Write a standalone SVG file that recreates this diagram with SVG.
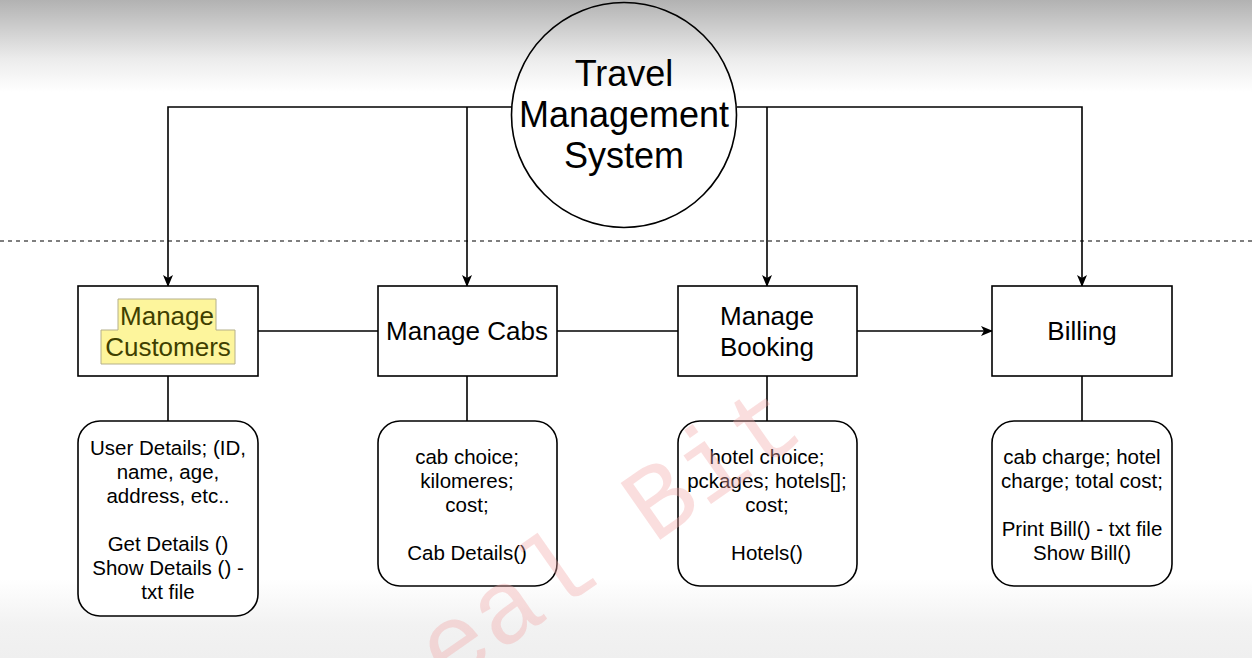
<svg xmlns="http://www.w3.org/2000/svg" width="1252" height="658" viewBox="0 0 1252 658">
<defs>
<linearGradient id="bg" x1="0" y1="0" x2="0" y2="1">
<stop offset="0" stop-color="#b2b2b2"/>
<stop offset="0.09" stop-color="#ececec"/>
<stop offset="0.14" stop-color="#ffffff"/>
<stop offset="0.88" stop-color="#ffffff"/>
<stop offset="0.95" stop-color="#f2f2f2"/>
<stop offset="1" stop-color="#efefef"/>
</linearGradient>
<marker id="arr" viewBox="0 0 12 12" refX="11" refY="6" markerWidth="12" markerHeight="12" markerUnits="userSpaceOnUse" orient="auto">
<path d="M0,1 L12,6 L0,11 L3,6 Z" fill="#000"/>
</marker>
<style>
.ln{stroke:#000;stroke-width:1.6;fill:none}
.box{fill:#fff;stroke:#000;stroke-width:1.6}
.t{font-family:"Liberation Sans",Arial,sans-serif;fill:#000;text-anchor:middle}
.title{font-size:26px}
.body{font-size:20.5px}
.wm{font-family:"Liberation Mono","Courier New",monospace;font-size:105px;fill:#f3a9a9;fill-opacity:0.38}
</style>
</defs>
<rect x="0" y="0" width="1252" height="658" fill="url(#bg)"/>
<line x1="0" y1="241" x2="1252" y2="241" stroke="#000" stroke-width="1.2" stroke-dasharray="4,4"/>
<g id="connectors">
<path class="ln" d="M512,107 H168 V286" marker-end="url(#arr)"/>
<path class="ln" d="M467,107 V286" marker-end="url(#arr)"/>
<path class="ln" d="M737,107 H1082 V286" marker-end="url(#arr)"/>
<path class="ln" d="M767,107 V286" marker-end="url(#arr)"/>
<path class="ln" d="M258,331 H378"/>
<path class="ln" d="M557,331 H678"/>
<path class="ln" d="M857,331 H992" marker-end="url(#arr)"/>
<path class="ln" d="M168,376 V421"/>
<path class="ln" d="M467,376 V421"/>
<path class="ln" d="M767,376 V421"/>
<path class="ln" d="M1082,376 V421"/>
</g>
<g id="tms">
<circle cx="624" cy="115" r="112.5" fill="none" stroke="#000" stroke-width="1.6"/>
<text class="t" font-size="36" x="624" y="86">Travel</text>
<text class="t" font-size="36" x="624" y="127">Management</text>
<text class="t" font-size="36" x="624" y="168">System</text>
</g>
<g id="manage-customers">
<rect class="box" x="78" y="286" width="180" height="90"/>
<path d="M118,299 H216 V330 H235 V364 H101 V330 H118 Z" fill="#fdf59c" stroke="#b5b08a" stroke-width="1"/>
<text class="t title" x="167" y="325" style="fill:#3f3f00">Manage</text>
<text class="t title" x="168" y="356" style="fill:#3f3f00">Customers</text>
</g>
<g id="manage-cabs">
<rect class="box" x="378" y="286" width="179" height="90"/>
<text class="t title" x="467" y="340">Manage Cabs</text>
</g>
<g id="manage-booking">
<rect class="box" x="678" y="286" width="179" height="90"/>
<text class="t title" x="767" y="325">Manage</text>
<text class="t title" x="767" y="356">Booking</text>
</g>
<g id="billing">
<rect class="box" x="992" y="286" width="180" height="90"/>
<text class="t title" x="1082" y="340">Billing</text>
</g>
<g id="customer-details">
<rect class="box" x="78" y="421" width="180" height="195" rx="22"/>
<text class="t body" x="168" y="455">User Details; (ID,</text>
<text class="t body" x="168" y="479">name, age,</text>
<text class="t body" x="168" y="503">address, etc..</text>
<text class="t body" x="168" y="551">Get Details ()</text>
<text class="t body" x="168" y="575">Show Details () -</text>
<text class="t body" x="168" y="599">txt file</text>
</g>
<g id="cab-details">
<rect class="box" x="378" y="421" width="179" height="165" rx="22"/>
<text class="t body" x="467" y="464">cab choice;</text>
<text class="t body" x="467" y="488">kilomeres;</text>
<text class="t body" x="467" y="512">cost;</text>
<text class="t body" x="467" y="560">Cab Details()</text>
</g>
<g id="booking-details">
<rect class="box" x="678" y="421" width="179" height="165" rx="22"/>
<text class="t body" x="767" y="464">hotel choice;</text>
<text class="t body" x="767" y="488">pckages; hotels[];</text>
<text class="t body" x="767" y="512">cost;</text>
<text class="t body" x="767" y="560">Hotels()</text>
</g>
<g id="billing-details">
<rect class="box" x="992" y="421" width="180" height="165" rx="22"/>
<text class="t body" x="1082" y="464">cab charge; hotel</text>
<text class="t body" x="1082" y="488">charge; total cost;</text>
<text class="t body" x="1082" y="536">Print Bill() - txt file</text>
<text class="t body" x="1082" y="560">Show Bill()</text>
</g>
<text class="wm" transform="translate(447,689) rotate(-35)">eal Bit</text>
</svg>
